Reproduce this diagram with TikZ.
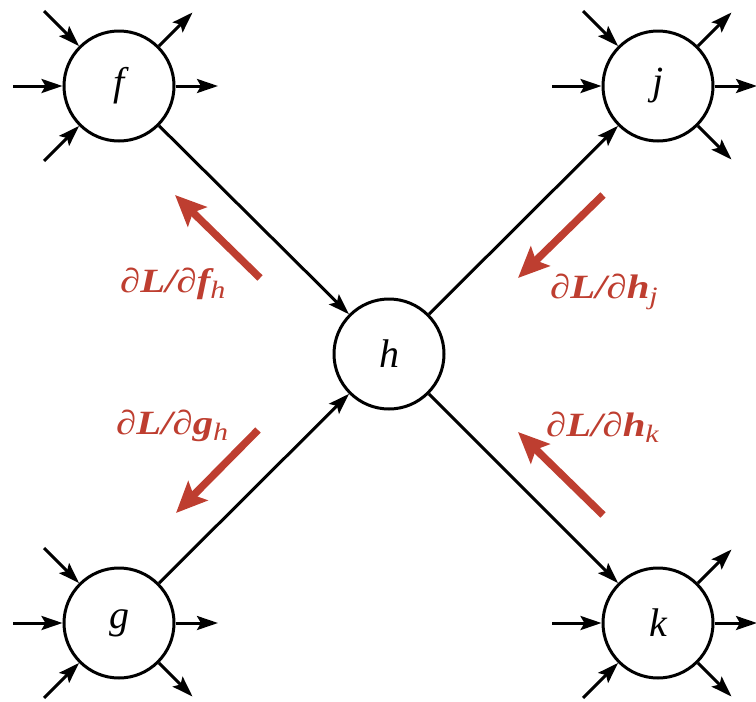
\documentclass[tikz,border=0pt]{standalone}
\usepackage{fontspec}
\setmainfont{Liberation Serif}
\newfontfamily\tnr{Liberation Serif}
\newfontfamily\labfont[FakeStretch=1.2]{Liberation Serif}
\usetikzlibrary{arrows.meta,calc}
\definecolor{gradred}{RGB}{190,62,48}
\tikzset{
  unit/.style={circle, draw, line width=3pt, minimum size=110pt, inner sep=0pt,
    font=\tnr\fontsize{40}{44}\selectfont\itshape},
  conn/.style={line width=3pt, -{Stealth[length=21pt,width=14pt,inset=4pt]}},
  gradarrow/.style={draw=gradred, line width=7.5pt,
    -{Stealth[length=31pt,width=27pt,inset=6pt]}},
  gradlabel/.style={text=gradred, font=\labfont\fontsize{34}{38}\selectfont\bfseries\itshape,
    anchor=base west, inner sep=0pt}
}
\newcommand\gradtext[2]{∂L/∂#1\raisebox{-6pt}{\fontsize{25}{27}\selectfont\mdseries #2}}
\begin{document}
\begin{tikzpicture}[x=1pt,y=-1pt]
\useasboundingbox (0,0) rectangle (756,702);
\clip (0,0) rectangle (756,702);
% units
\node[unit] (f) at (119,86) {f};
\node[unit] (j) at (658,86) {j};
\node[unit] (h) at (389,354) {h};
\node[unit] (g) at (119,623) {g};
\node[unit] (k) at (658,623) {k};
% main connections
\draw[conn] (f) -- (h);
\draw[conn] (g) -- (h);
\draw[conn] (h) -- (j);
\draw[conn] (h) -- (k);
% peripheral inputs and outputs
\foreach \n in {f,g,j,k}{
  \draw[conn] ($(\n)+(180:106pt)$) -- (\n.180);
  \draw[conn] (\n.0) -- ($(\n)+(0:99pt)$);
}
\foreach \n in {f,g,j}{
  \draw[conn] ($(\n)+(135:106pt)$) -- (\n.135);
}
\foreach \n in {f,g,k}{
  \draw[conn] ($(\n)+(225:106pt)$) -- (\n.225);
}
\foreach \n in {f,j,k}{
  \draw[conn] (\n.45) -- ($(\n)+(45:104pt)$);
}
\foreach \n in {g,j,k}{
  \draw[conn] (\n.315) -- ($(\n)+(315:104pt)$);
}
% gradient arrows
\coordinate (a1s) at (260,278); \coordinate (a1e) at (175,195);
\coordinate (a2s) at (603,195); \coordinate (a2e) at (518,278);
\coordinate (a3s) at (258,430); \coordinate (a3e) at (176,513);
\coordinate (a4s) at (603,515); \coordinate (a4e) at (518,432);
\draw[gradarrow] (a1s) -- (a1e);
\draw[gradarrow] (a2s) -- (a2e);
\draw[gradarrow] (a3s) -- (a3e);
\draw[gradarrow] (a4s) -- (a4e);
% labels
\node[gradlabel] (l1) at (120,292) {\gradtext{f}{h}};
\node[gradlabel] (l2) at (550,298) {\gradtext{h}{j}};
\node[gradlabel] (l3) at (116,434) {\gradtext{g}{h}};
\node[gradlabel] (l4) at (546,436) {\gradtext{h}{k}};
\end{tikzpicture}
\end{document}
